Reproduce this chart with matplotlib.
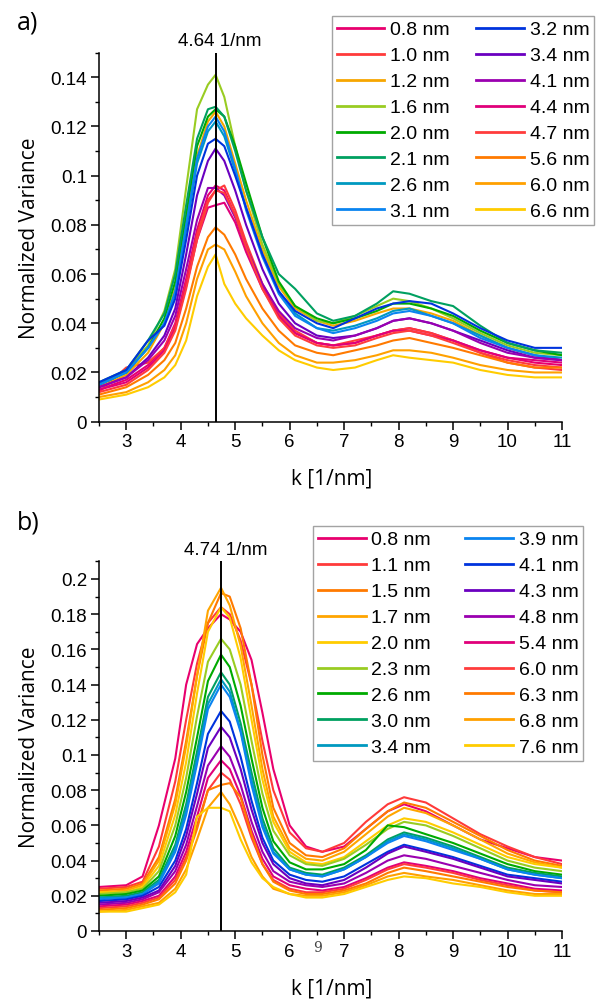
import matplotlib
matplotlib.use("Agg")
import matplotlib.pyplot as plt
from matplotlib.ticker import MultipleLocator, FuncFormatter

# ---- panel a data ----
k_a = [2.5, 3.0, 3.4, 3.7, 3.9, 4.1, 4.3, 4.5, 4.64, 4.8, 5.0, 5.2, 5.5, 5.8,
       6.1, 6.5, 6.8, 7.2, 7.6, 7.9, 8.2, 8.6, 9.0, 9.5, 10.0, 10.5, 11.0]
labels_a = ['0.8 nm', '1.0 nm', '1.2 nm', '1.6 nm', '2.0 nm', '2.1 nm', '2.6 nm', '3.1 nm',
            '3.2 nm', '3.4 nm', '4.1 nm', '4.4 nm', '4.7 nm', '5.6 nm', '6.0 nm', '6.6 nm']
colors_a = ['#e8006e', '#ff3a3a', '#f7a600', '#99cc22', '#00aa00', '#00a060', '#0099c0', '#0a84f0',
            '#0033dd', '#6a00c0', '#9a00b0', '#e0007a', '#ff3c3c', '#ff7a00', '#ffa000', '#ffcc00']
a_08 = [0.013, 0.017, 0.023, 0.030, 0.040, 0.058, 0.078, 0.092, 0.096, 0.094, 0.084, 0.071, 0.055, 0.043,
        0.036, 0.032, 0.031, 0.032, 0.035, 0.037, 0.038, 0.036, 0.033, 0.029, 0.026, 0.024, 0.023]
a_10 = [0.012, 0.022, 0.024, 0.030, 0.039, 0.056, 0.076, 0.090, 0.094, 0.096, 0.086, 0.073, 0.056, 0.044,
        0.037, 0.032, 0.031, 0.033, 0.035, 0.037, 0.038, 0.036, 0.033, 0.028, 0.024, 0.022, 0.021]
a_12 = [0.014, 0.019, 0.028, 0.040, 0.054, 0.080, 0.108, 0.122, 0.126, 0.120, 0.105, 0.090, 0.070, 0.055,
        0.046, 0.041, 0.039, 0.041, 0.044, 0.046, 0.046, 0.044, 0.041, 0.035, 0.030, 0.027, 0.025]
a_16 = [0.015, 0.021, 0.031, 0.045, 0.062, 0.095, 0.127, 0.137, 0.141, 0.132, 0.112, 0.094, 0.072, 0.056,
        0.047, 0.041, 0.040, 0.043, 0.047, 0.050, 0.049, 0.046, 0.042, 0.036, 0.031, 0.028, 0.027]
a_20 = [0.015, 0.020, 0.030, 0.042, 0.057, 0.084, 0.112, 0.124, 0.127, 0.124, 0.112, 0.097, 0.075, 0.057,
        0.047, 0.042, 0.040, 0.042, 0.045, 0.048, 0.048, 0.046, 0.043, 0.037, 0.032, 0.029, 0.027]
a_21 = [0.016, 0.021, 0.033, 0.044, 0.060, 0.088, 0.115, 0.127, 0.128, 0.124, 0.110, 0.094, 0.075, 0.060,
        0.054, 0.044, 0.041, 0.043, 0.048, 0.053, 0.052, 0.049, 0.047, 0.039, 0.032, 0.029, 0.028]
a_26 = [0.015, 0.020, 0.030, 0.040, 0.052, 0.078, 0.105, 0.118, 0.122, 0.116, 0.102, 0.087, 0.068, 0.053,
        0.044, 0.038, 0.037, 0.039, 0.042, 0.045, 0.046, 0.043, 0.040, 0.035, 0.030, 0.027, 0.026]
a_31 = [0.015, 0.020, 0.030, 0.040, 0.053, 0.080, 0.107, 0.120, 0.124, 0.118, 0.103, 0.086, 0.067, 0.052,
        0.043, 0.038, 0.036, 0.038, 0.041, 0.044, 0.045, 0.043, 0.040, 0.034, 0.030, 0.027, 0.025]
a_32 = [0.016, 0.021, 0.033, 0.039, 0.050, 0.074, 0.100, 0.113, 0.115, 0.112, 0.100, 0.087, 0.068, 0.053,
        0.045, 0.040, 0.038, 0.042, 0.046, 0.048, 0.049, 0.048, 0.044, 0.038, 0.033, 0.030, 0.030]
a_34 = [0.014, 0.018, 0.026, 0.035, 0.046, 0.068, 0.092, 0.106, 0.111, 0.106, 0.094, 0.080, 0.062, 0.048,
        0.040, 0.035, 0.034, 0.035, 0.038, 0.041, 0.042, 0.040, 0.037, 0.033, 0.029, 0.026, 0.025]
a_41 = [0.014, 0.018, 0.025, 0.033, 0.043, 0.062, 0.082, 0.095, 0.095, 0.092, 0.083, 0.071, 0.056, 0.045,
        0.038, 0.034, 0.033, 0.035, 0.038, 0.041, 0.042, 0.040, 0.037, 0.032, 0.028, 0.026, 0.025]
a_44 = [0.013, 0.016, 0.022, 0.029, 0.038, 0.055, 0.074, 0.087, 0.088, 0.089, 0.081, 0.069, 0.054, 0.043,
        0.036, 0.032, 0.031, 0.032, 0.035, 0.037, 0.037, 0.035, 0.033, 0.029, 0.026, 0.025, 0.024]
a_47 = [0.012, 0.015, 0.021, 0.028, 0.037, 0.054, 0.074, 0.089, 0.094, 0.093, 0.084, 0.071, 0.054, 0.042,
        0.035, 0.031, 0.030, 0.031, 0.034, 0.036, 0.037, 0.035, 0.032, 0.028, 0.025, 0.023, 0.022]
a_56 = [0.011, 0.014, 0.019, 0.025, 0.032, 0.046, 0.063, 0.075, 0.079, 0.076, 0.068, 0.058, 0.046, 0.037,
        0.031, 0.028, 0.027, 0.029, 0.031, 0.033, 0.034, 0.032, 0.030, 0.027, 0.024, 0.022, 0.022]
a_60 = [0.010, 0.012, 0.016, 0.021, 0.027, 0.040, 0.058, 0.070, 0.072, 0.070, 0.061, 0.051, 0.040, 0.032,
        0.027, 0.024, 0.024, 0.025, 0.027, 0.029, 0.029, 0.028, 0.026, 0.023, 0.021, 0.020, 0.020]
a_66 = [0.009, 0.011, 0.014, 0.018, 0.023, 0.033, 0.051, 0.063, 0.068, 0.056, 0.048, 0.042, 0.035, 0.029,
        0.025, 0.022, 0.021, 0.022, 0.025, 0.027, 0.026, 0.025, 0.024, 0.021, 0.019, 0.018, 0.018]
series_a = [a_08, a_10, a_12, a_16, a_20, a_21, a_26, a_31, a_32, a_34, a_41, a_44, a_47, a_56, a_60, a_66]

# ---- panel b data ----
k_b = [2.5, 3.0, 3.3, 3.6, 3.9, 4.1, 4.3, 4.5, 4.74, 4.9, 5.1, 5.3, 5.5, 5.7,
       6.0, 6.3, 6.6, 7.0, 7.4, 7.8, 8.1, 8.5, 9.0, 9.5, 10.0, 10.5, 11.0]
labels_b = ['0.8 nm', '1.1 nm', '1.5 nm', '1.7 nm', '2.0 nm', '2.3 nm', '2.6 nm', '3.0 nm', '3.4 nm',
            '3.9 nm', '4.1 nm', '4.3 nm', '4.8 nm', '5.4 nm', '6.0 nm', '6.3 nm', '6.8 nm', '7.6 nm']
colors_b = ['#e8006e', '#ff3a3a', '#ff7a00', '#ffa500', '#ffcc00', '#99cc22', '#00aa00', '#00a060', '#0099c0',
            '#0a84f0', '#0033dd', '#6a00c0', '#9a00b0', '#e0007a', '#ff3c3c', '#ff7a00', '#ffa000', '#ffcc00']
b_08 = [0.025, 0.026, 0.031, 0.060, 0.098, 0.140, 0.163, 0.172, 0.180, 0.177, 0.170, 0.154, 0.124, 0.092,
        0.060, 0.048, 0.045, 0.048, 0.058, 0.068, 0.072, 0.068, 0.060, 0.052, 0.047, 0.042, 0.040]
b_11 = [0.024, 0.025, 0.028, 0.048, 0.085, 0.120, 0.152, 0.175, 0.184, 0.180, 0.165, 0.140, 0.108, 0.080,
        0.056, 0.047, 0.045, 0.050, 0.062, 0.072, 0.076, 0.073, 0.064, 0.055, 0.048, 0.042, 0.038]
b_15 = [0.023, 0.024, 0.027, 0.042, 0.075, 0.108, 0.145, 0.175, 0.192, 0.190, 0.172, 0.140, 0.100, 0.070,
        0.050, 0.043, 0.042, 0.047, 0.058, 0.068, 0.073, 0.070, 0.062, 0.054, 0.046, 0.040, 0.037]
b_17 = [0.022, 0.023, 0.026, 0.040, 0.072, 0.105, 0.145, 0.182, 0.195, 0.185, 0.162, 0.128, 0.092, 0.065,
        0.047, 0.041, 0.040, 0.045, 0.055, 0.065, 0.070, 0.067, 0.060, 0.052, 0.044, 0.039, 0.036]
b_20 = [0.022, 0.022, 0.025, 0.037, 0.066, 0.096, 0.135, 0.170, 0.184, 0.178, 0.155, 0.120, 0.086, 0.062,
        0.045, 0.039, 0.038, 0.042, 0.051, 0.060, 0.064, 0.062, 0.056, 0.049, 0.042, 0.038, 0.036]
b_23 = [0.021, 0.022, 0.024, 0.034, 0.060, 0.087, 0.122, 0.153, 0.166, 0.160, 0.140, 0.108, 0.078, 0.057,
        0.043, 0.038, 0.037, 0.041, 0.049, 0.058, 0.062, 0.060, 0.054, 0.047, 0.040, 0.036, 0.034]
b_26 = [0.020, 0.021, 0.023, 0.031, 0.054, 0.079, 0.110, 0.142, 0.157, 0.150, 0.128, 0.098, 0.070, 0.051,
        0.039, 0.035, 0.035, 0.038, 0.046, 0.060, 0.059, 0.055, 0.050, 0.044, 0.038, 0.034, 0.032]
b_30 = [0.019, 0.020, 0.022, 0.029, 0.049, 0.072, 0.102, 0.133, 0.147, 0.140, 0.118, 0.090, 0.064, 0.047,
        0.036, 0.033, 0.032, 0.036, 0.043, 0.052, 0.056, 0.053, 0.048, 0.042, 0.036, 0.033, 0.031]
b_34 = [0.019, 0.019, 0.021, 0.028, 0.047, 0.069, 0.098, 0.129, 0.143, 0.136, 0.114, 0.086, 0.061, 0.045,
        0.035, 0.032, 0.031, 0.035, 0.042, 0.051, 0.055, 0.052, 0.047, 0.041, 0.035, 0.032, 0.030]
b_39 = [0.018, 0.019, 0.021, 0.027, 0.045, 0.066, 0.095, 0.126, 0.140, 0.133, 0.113, 0.083, 0.059, 0.044,
        0.035, 0.032, 0.031, 0.035, 0.042, 0.050, 0.054, 0.051, 0.046, 0.041, 0.035, 0.032, 0.030]
b_41 = [0.017, 0.018, 0.020, 0.025, 0.040, 0.058, 0.084, 0.112, 0.125, 0.119, 0.099, 0.074, 0.053, 0.040,
        0.032, 0.029, 0.028, 0.031, 0.038, 0.045, 0.049, 0.046, 0.042, 0.037, 0.032, 0.030, 0.028]
b_43 = [0.016, 0.017, 0.019, 0.023, 0.037, 0.054, 0.078, 0.104, 0.116, 0.110, 0.092, 0.069, 0.050, 0.038,
        0.030, 0.027, 0.026, 0.029, 0.036, 0.044, 0.048, 0.045, 0.041, 0.036, 0.031, 0.029, 0.027]
b_48 = [0.015, 0.016, 0.018, 0.022, 0.034, 0.049, 0.071, 0.094, 0.105, 0.099, 0.083, 0.062, 0.045, 0.034,
        0.028, 0.026, 0.025, 0.027, 0.033, 0.040, 0.043, 0.041, 0.037, 0.033, 0.029, 0.026, 0.025]
b_54 = [0.014, 0.015, 0.017, 0.020, 0.031, 0.045, 0.065, 0.087, 0.097, 0.092, 0.077, 0.057, 0.041, 0.031,
        0.026, 0.024, 0.023, 0.025, 0.030, 0.036, 0.039, 0.037, 0.034, 0.030, 0.027, 0.024, 0.023]
b_60 = [0.013, 0.014, 0.016, 0.019, 0.029, 0.042, 0.060, 0.080, 0.090, 0.086, 0.072, 0.053, 0.038, 0.029,
        0.024, 0.022, 0.022, 0.024, 0.029, 0.035, 0.038, 0.036, 0.033, 0.029, 0.026, 0.023, 0.022]
b_63 = [0.012, 0.013, 0.015, 0.018, 0.027, 0.040, 0.058, 0.080, 0.083, 0.084, 0.076, 0.055, 0.038, 0.028,
        0.023, 0.021, 0.021, 0.023, 0.027, 0.033, 0.036, 0.034, 0.031, 0.028, 0.025, 0.023, 0.022]
b_68 = [0.011, 0.012, 0.014, 0.016, 0.024, 0.035, 0.052, 0.070, 0.079, 0.072, 0.058, 0.042, 0.031, 0.024,
        0.021, 0.020, 0.020, 0.022, 0.026, 0.031, 0.033, 0.031, 0.029, 0.026, 0.023, 0.021, 0.021]
b_76 = [0.011, 0.011, 0.013, 0.015, 0.022, 0.032, 0.065, 0.070, 0.070, 0.068, 0.052, 0.039, 0.030, 0.025,
        0.021, 0.019, 0.019, 0.021, 0.025, 0.029, 0.031, 0.030, 0.027, 0.025, 0.022, 0.020, 0.020]
series_b = [b_08, b_11, b_15, b_17, b_20, b_23, b_26, b_30, b_34, b_39, b_41, b_43, b_48, b_54,
            b_60, b_63, b_68, b_76]

peak_a = 4.64
peak_b = 4.74

TICK_FONT = 'Liberation Sans'
LABEL_FONT = 'Open Sans'
TICK_SIZE = 13.5
LEG_SIZE = 14

fig = plt.figure(figsize=(6, 10.03), dpi=100)
ax_a = fig.add_axes([0.165, 0.5786, 0.7717, 0.3679])
ax_b = fig.add_axes([0.165, 0.0708, 0.7717, 0.3685])


def style_axes(ax, ymax):
    ax.set_xlim(2.5, 11)
    ax.set_ylim(0, ymax)
    for side in ['top', 'right']:
        ax.spines[side].set_visible(False)
    for side in ['left', 'bottom']:
        ax.spines[side].set_linewidth(1.1)
    ax.xaxis.set_major_locator(MultipleLocator(1))
    ax.xaxis.set_minor_locator(MultipleLocator(0.5))
    ax.yaxis.set_major_locator(MultipleLocator(0.02))
    ax.yaxis.set_minor_locator(MultipleLocator(0.01))
    ax.yaxis.set_major_formatter(FuncFormatter(lambda v, p: '{:g}'.format(round(v, 4))))
    ax.tick_params(which='major', direction='out', length=5.5, width=1.1, labelsize=TICK_SIZE, pad=3)
    ax.tick_params(which='minor', direction='out', length=3, width=1.0)
    for lab in ax.get_xticklabels() + ax.get_yticklabels():
        lab.set_family(TICK_FONT)
    ax.set_xlabel('k [1/nm]', family=LABEL_FONT, fontsize=15)
    ax.set_ylabel('Normalized Variance', family=LABEL_FONT, fontsize=15)
    ax.xaxis.set_label_coords(0.503, -0.125)
    ax.yaxis.set_label_coords(-0.128, 0.5)


def draw_panel(ax, k, series, labels, colors, peak, ymax, legend_xy, colspace):
    for vals, lab, col in zip(series, labels, colors):
        ax.plot(k, vals, color=col, lw=1.5, label=lab)
    ax.axvline(peak, color='black', lw=1.4, zorder=5)
    style_axes(ax, ymax)
    ax.text(peak + 0.08, ymax * 1.01, f'{peak:.2f} 1/nm', ha='center', va='bottom',
            family=TICK_FONT, fontsize=TICK_SIZE)
    leg = ax.legend(loc='upper left', bbox_to_anchor=legend_xy, bbox_transform=fig.transFigure,
                    ncol=2, frameon=True, fancybox=False, borderaxespad=0, borderpad=0.25,
                    handlelength=2.45, handletextpad=0.3, labelspacing=0.43, columnspacing=colspace,
                    prop={'family': TICK_FONT, 'size': LEG_SIZE})
    leg.get_frame().set_edgecolor('#8c8c8c')
    leg.get_frame().set_linewidth(1.0)
    for line in leg.get_lines():
        line.set_linewidth(2.0)
    return leg


draw_panel(ax_a, k_a, series_a, labels_a, colors_a, peak_a, 0.15, (0.5533, 0.9831), 1.35)
draw_panel(ax_b, k_b, series_b, labels_b, colors_b, peak_b, 0.21, (0.5217, 0.4746), 1.75)

fig.text(0.028, 0.977, 'a)', family=LABEL_FONT, fontsize=18, va='center', ha='left')
fig.text(0.028, 0.479, 'b)', family=LABEL_FONT, fontsize=18, va='center', ha='left')
# stray glyph that sits in the reference between the 6 and 7 labels
fig.text(0.530, 0.055, '9', family='DejaVu Serif', fontsize=10, color='#444444', ha='center', va='center')

fig.savefig('out.png', dpi=100)
